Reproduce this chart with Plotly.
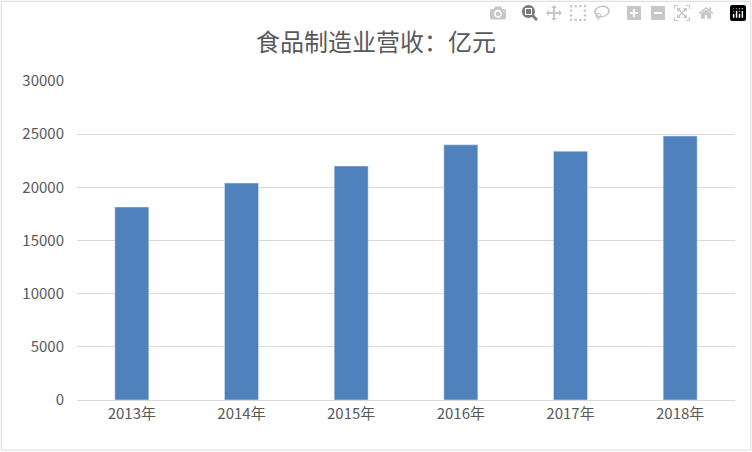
import plotly.graph_objects as go

years = ["2013年", "2014年", "2015年", "2016年", "2017年", "2018年"]
revenue = [18150, 20400, 22000, 24000, 23400, 24830]

fig = go.Figure(go.Bar(x=years, y=revenue, marker_color="#4f81bd", width=0.31))

fig.update_layout(
    title=dict(text="食品制造业营收：亿元", x=0.5, y=0.925, xanchor="center",
               font=dict(size=24, color="#595959", family="Noto Sans CJK SC")),
    width=752, height=452,
    margin=dict(l=77, r=17, t=81, b=52),
    plot_bgcolor="white", paper_bgcolor="white",
    font=dict(family="Noto Sans CJK SC", size=15, color="#595959"),
    bargap=0.69,
    showlegend=False,
    shapes=[dict(type="rect", xref="paper", yref="paper", x0=-0.115, y0=-0.157, x1=1.024, y1=1.25,
                 line=dict(color="#d9d9d9", width=1))],
)
fig.update_yaxes(range=[0, 30000], dtick=5000, gridcolor="#d9d9d9", zeroline=False,
                 showline=False, ticks="", tickformat="d", ticklabelstandoff=12)
fig.update_xaxes(showline=True, linecolor="#d9d9d9", ticks="")

fig.write_html("out.html")

# drop the default body margin so the chart sits at the window's corner
with open("out.html", encoding="utf-8") as f:
    page = f.read()
page = page.replace("<body>", '<body style="margin:0">', 1)
with open("out.html", "w", encoding="utf-8") as f:
    f.write(page)
